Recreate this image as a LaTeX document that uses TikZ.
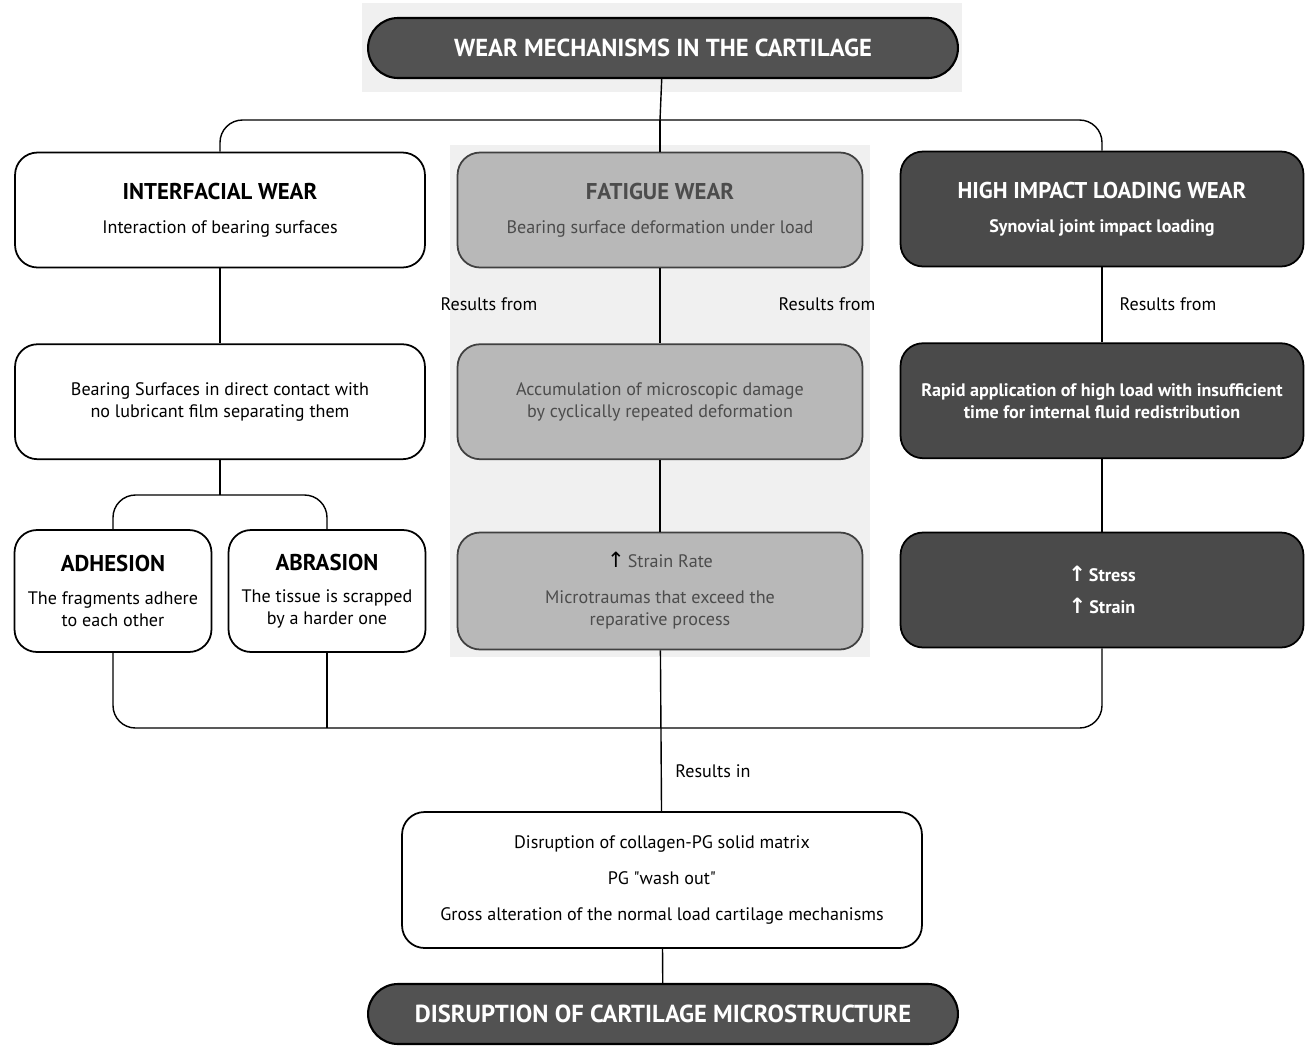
\documentclass[tikz,border=0pt]{standalone}
\usepackage{fontspec}
\setmainfont{PT Sans}
\newfontfamily\arrowfont{DejaVu Sans}
\usetikzlibrary{positioning}

\definecolor{pillfill}{gray}{0.32}
\definecolor{fatfill}{gray}{0.72}
\definecolor{fattext}{gray}{0.30}
\definecolor{impfill}{gray}{0.29}
\definecolor{haze}{gray}{0.94}

\newcommand{\up}{{\arrowfont\fontsize{12}{12}\selectfont\char"2191}}

\begin{document}
\begin{tikzpicture}[
    x=0.02cm, y=-0.02cm,
    node distance=1.5cm and 0.7cm,
    every node/.style={font=\fontsize{10.3}{12.5}\selectfont},
    link/.style={draw, line width=0.8pt},
    pill/.style={draw=black, line width=1.2pt, rounded corners=0.6cm,
                 minimum width=11.8cm, minimum height=1.2cm, fill=pillfill,
                 text=white, font=\fontsize{14}{16}\selectfont\bfseries},
    wbox/.style={draw, line width=1pt, rounded corners=0.45cm, fill=white,
                 align=center, minimum width=8.2cm, minimum height=2.3cm},
    fbox/.style={draw=black!75, line width=1pt, rounded corners=0.45cm, fill=fatfill,
                 text=fattext, align=center, minimum width=8.1cm, minimum height=2.3cm},
    hbox/.style={draw=black, line width=1pt, rounded corners=0.45cm, fill=impfill,
                 text=white, align=center, minimum width=8.06cm, minimum height=2.3cm,
                 font=\fontsize{10.3}{12.5}\selectfont\bfseries},
    sbox/.style={wbox, minimum width=3.94cm, minimum height=2.44cm},
    tag/.style={font=\fontsize{10.3}{12.5}\selectfont}
  ]
    \useasboundingbox (0,0) rectangle (1306,1046);

    % faint scan halo behind the title and the middle column
    \fill[haze] (362,3) rectangle (962,92);
    \fill[haze] (450,145) rectangle (870,657);

    % title
    \node[pill] (wear) at (663,48) {WEAR MECHANISMS IN THE CARTILAGE};

    % first row: the three kinds of wear
    \node[wbox] (iw) at (220,210)
      {{\fontsize{13}{15}\selectfont\bfseries INTERFACIAL WEAR}\\[7pt]
       Interaction of bearing surfaces};
    \node[fbox] (fw) at (660,210)
      {{\fontsize{13}{15}\selectfont\bfseries FATIGUE WEAR}\\[7pt]
       Bearing surface deformation under load};
    \node[hbox] (hw) at (1102,209)
      {{\fontsize{13}{15}\selectfont HIGH IMPACT LOADING WEAR}\\[7pt]
       Synovial joint impact loading};

    % second row
    \node[wbox, below=of iw] (ib)
      {Bearing Surfaces in direct contact with\\no lubricant film separating them};
    \node[fbox, below=of fw] (fb)
      {Accumulation of microscopic damage\\by cyclically repeated deformation};
    \node[hbox, below=of hw] (hb)
      {Rapid application of high load with insufficient\\time for internal fluid redistribution};

    % third row
    \node[sbox] (ad) at (113,591)
      {{\fontsize{13}{15}\selectfont\bfseries ADHESION}\\[6pt]
       The fragments adhere\\to each other};
    \node[sbox] (ab) at (327,591)
      {{\fontsize{13}{15}\selectfont\bfseries ABRASION}\\[6pt]
       The tissue is scrapped\\by a harder one};
    \node[fbox, minimum height=2.34cm] (fr) at (660,591)
      {{\color{black}\up}\,Strain Rate\\[8pt]
       Microtraumas that exceed the\\reparative process};
    \node[hbox, minimum height=2.3cm] (hr) at (1102,590)
      {\up\,Stress\\[6pt]\up\,Strain};

    % outcome
    \node[wbox, minimum width=10.4cm, minimum height=2.72cm] (out) at (662,880)
      {Disruption of collagen-PG solid matrix\\[8pt]
       PG \textquotedbl wash out\textquotedbl\\[8pt]
       Gross alteration of the normal load cartilage mechanisms};
    \node[pill] (dis) at (663,1014)
      {DISRUPTION OF CARTILAGE MICROSTRUCTURE};

    % labels on the links
    \node[tag] (rf1) at (489,304) {Results from};
    \node[tag] (rf2) at (827,304) {Results from};
    \node[tag] (rf3) at (1168,304) {Results from};
    \node[tag] (ri) at (713,771) {Results in};

    % connections
    \coordinate (split) at (660,120);
    \coordinate (fork) at (220,495);
    \coordinate (join) at (660,728);
    \draw[link] (wear) -- (split);
    \draw[link, rounded corners=0.45cm] (iw.north) |- (split) -| (hw.north);
    \draw[link] (split) -- (fw.north);
    \draw[link] (iw) -- (ib);
    \draw[link] (fw) -- (fb);
    \draw[link] (hw) -- (hb);
    \draw[link] (ib.south) -- (fork);
    \draw[link, rounded corners=0.45cm] (ad.north) |- (fork) -| (ab.north);
    \draw[link] (fb) -- (fr);
    \draw[link] (hb) -- (hr);
    \draw[link, rounded corners=0.45cm] (ad.south) |- (join) -| (hr.south);
    \draw[link] (ab.south) -- (ab.south |- join);
    \draw[link] (fr) -- (out);
    \draw[link] (out) -- (dis);
  \end{tikzpicture}
\end{document}
